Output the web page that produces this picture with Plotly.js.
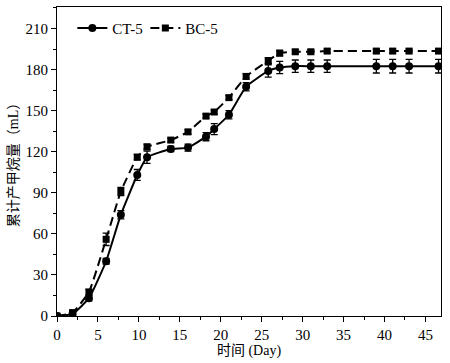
<!DOCTYPE html>
<html>
<head>
<meta charset="utf-8">
<script src="https://cdn.plot.ly/plotly-3.0.1.min.js"></script>
<style>html,body{margin:0;padding:0;background:#fff;}#chart{width:450px;height:363px;}</style>
</head>
<body>
<div id="chart"></div>
<script>
var days = [0, 1.9, 3.9, 6, 7.8, 9.8, 11, 13.9, 16, 18.2, 19.2, 21, 23.1, 25.8, 27.2, 29.1, 31, 33, 39, 41, 43, 46.6];
var ct5 = [0, 1.5, 13, 40, 74, 103, 116, 122, 123, 131, 136.5, 147, 167.5, 179, 181.5, 182.5, 182.5, 182.5, 182.5, 182.5, 182.5, 182.5];
var ct5Err = [0, 1, 2, 2, 3, 4, 4.5, 2, 2.5, 3, 4, 3, 3, 4.5, 4.5, 4.5, 4.5, 4.5, 5, 5, 5, 5];
var bc5 = [0, 2.5, 17.5, 56, 91, 116, 123.5, 128.5, 134.5, 146, 149, 159.5, 175, 186.5, 192, 193, 193, 193.5, 193.5, 193.5, 193.5, 193.5];
var bc5Err = [0, 1, 2, 4.5, 3, 2, 2, 1.5, 1.5, 1.5, 1.5, 1.5, 2, 2, 2, 1.5, 1.5, 1.5, 1.5, 1.5, 1.5, 1.5];
var xTicks = [0, 5, 10, 15, 20, 25, 30, 35, 40, 45];
var yTicks = [0, 30, 60, 90, 120, 150, 180, 210];

var font = "'Liberation Serif', 'Times New Roman', 'Noto Sans CJK SC', serif";
var traces = [
  {
    x: days, y: ct5, name: 'CT-5', type: 'scatter', mode: 'lines+markers',
    line: {color: '#000', width: 2, shape: 'spline', smoothing: 0.4},
    marker: {symbol: 'circle', size: 8, color: '#000'},
    error_y: {type: 'data', array: ct5Err, visible: true, color: '#000', thickness: 1.3, width: 3.5}
  },
  {
    x: days, y: bc5, name: 'BC-5', type: 'scatter', mode: 'lines+markers',
    line: {color: '#000', width: 2, dash: '9px,5px', shape: 'spline', smoothing: 0.4},
    marker: {symbol: 'square', size: 7, color: '#000'},
    error_y: {type: 'data', array: bc5Err, visible: true, color: '#000', thickness: 1.3, width: 3.5}
  }
];

var layout = {
  width: 450, height: 363,
  margin: {l: 57, r: 9, t: 7, b: 47},
  paper_bgcolor: '#fff', plot_bgcolor: '#fff',
  font: {family: font, size: 15, color: '#000'},
  showlegend: true,
  legend: {orientation: 'h', x: 0.04, y: 0.931, xanchor: 'left', yanchor: 'middle',
           bgcolor: 'rgba(0,0,0,0)', font: {family: font, size: 15, color: '#000'},
           entrywidth: 28, entrywidthmode: 'pixels', tracegroupgap: 0},
  xaxis: {
    range: [0, 46.9], tickmode: 'array', tickvals: xTicks, ticktext: xTicks.map(String),
    ticks: 'outside', ticklen: 5, tickwidth: 1, tickcolor: '#000',
    minor: {dtick: 2.5, tick0: 0, ticks: 'outside', ticklen: 3, tickwidth: 1, tickcolor: '#000'},
    showline: true, linecolor: '#000', linewidth: 1, mirror: true,
    showgrid: false, zeroline: false,
    tickfont: {family: font, size: 15, color: '#000'},
    title: {text: '时间 (Day)', font: {family: font, size: 14, color: '#000'}, standoff: 1}
  },
  yaxis: {
    range: [0, 225.7], tickmode: 'array', tickvals: yTicks, ticktext: yTicks.map(String),
    ticks: 'outside', ticklen: 5, tickwidth: 1, tickcolor: '#000',
    minor: {dtick: 15, tick0: 0, ticks: 'outside', ticklen: 3, tickwidth: 1, tickcolor: '#000'},
    showline: true, linecolor: '#000', linewidth: 1, mirror: true,
    showgrid: false, zeroline: false,
    tickfont: {family: font, size: 15, color: '#000'},
    title: {text: '累计产甲烷量（mL）', font: {family: font, size: 14, color: '#000'}, standoff: 3}
  }
};

Plotly.newPlot('chart', traces, layout, {displayModeBar: false, staticPlot: true});
</script>
</body>
</html>
